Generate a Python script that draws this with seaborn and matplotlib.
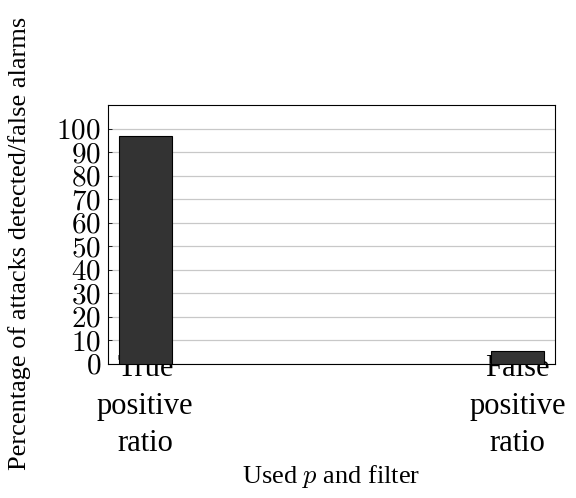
import matplotlib
matplotlib.use("Agg")
import matplotlib.pyplot as plt
import seaborn as sns
import pandas as pd

categories = ["True\npositive\nratio", "False\npositive\nratio"]
values = [97, 5.5]
yticks = list(range(0, 101, 10))

sns.set_theme(style="white")
plt.rcParams['font.family'] = ['Liberation Serif', 'DejaVu Serif']
plt.rcParams['mathtext.fontset'] = 'cm'
plt.rcParams['text.color'] = 'black'
plt.rcParams['axes.labelcolor'] = 'black'
plt.rcParams['xtick.color'] = 'black'
plt.rcParams['ytick.color'] = 'black'

df = pd.DataFrame({"cat": categories, "val": values})

fig = plt.figure(figsize=(5.76, 4.98), dpi=100)
ax = fig.add_axes([108/576, 1-364/498, (555-108)/576, (364-105)/498])
sns.barplot(data=df, x="cat", y="val", ax=ax, color="#333333", saturation=1,
            width=0.142, edgecolor="black", linewidth=0.8, zorder=3)
ax.set_xlim(-0.1, 1.1)
ax.set_ylim(0, 110)
ax.set_yticks(yticks)
ax.set_yticklabels([f"${t}$" for t in yticks], fontsize=21)
ax.yaxis.grid(True, color="#c8c8c8", linewidth=0.9, zorder=0)
ax.set_axisbelow(True)
for s in ax.spines.values():
    s.set_color("black")
    s.set_linewidth(0.8)
ax.tick_params(axis="y", direction="in", length=3, width=0.6, left=True, pad=5,
               colors="black")
ax.tick_params(axis="x", length=0, pad=-7, labelsize=22, colors="black")
for lbl in ax.get_xticklabels():
    lbl.set_linespacing(1.38)
ax.set_xlabel("Used $p$ and filter", fontsize=19)
ax.xaxis.set_label_coords(0.5, (364-463)/259)
ax.set_ylabel("Percentage of attacks detected/false alarms", fontsize=19)
ax.yaxis.set_label_coords((31-108)/447, (364-243)/259)
fig.savefig("out.png", dpi=100)
